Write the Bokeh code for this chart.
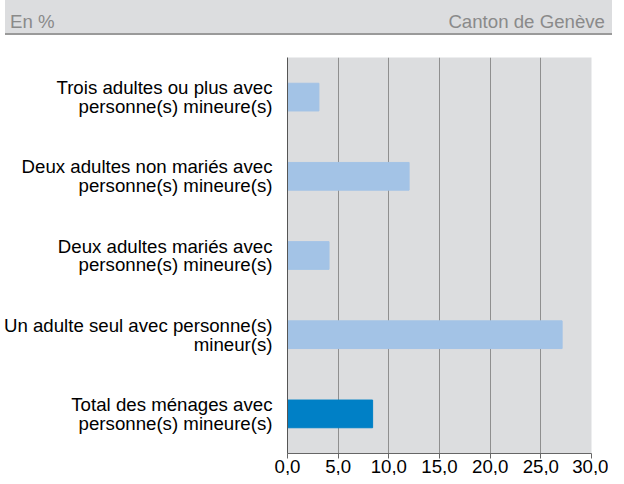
from bokeh.plotting import figure
from bokeh.models import FixedTicker, ColumnDataSource, CustomJSTickFormatter, Div
from bokeh.layouts import column
from bokeh.embed import file_html
from bokeh.resources import INLINE

categories = [
    "Total des ménages avec\npersonne(s) mineure(s)",
    "Un adulte seul avec personne(s)\nmineur(s)",
    "Deux adultes mariés avec\npersonne(s) mineure(s)",
    "Deux adultes non mariés avec\npersonne(s) mineure(s)",
    "Trois adultes ou plus avec\npersonne(s) mineure(s)",
]
values = [8.4, 27.1, 4.1, 12.0, 3.1]
colors = ["#0080c6", "#a3c3e6", "#a3c3e6", "#a3c3e6", "#a3c3e6"]
ticks = [0, 5, 10, 15, 20, 25, 30]
header_left = "En %"
header_right = "Canton de Genève"

FONT = "Liberation Sans"
FS = "14pt"
GREY_BG = "#dcdddf"

# ---- header band ----
HEADER_H = 35
header_html = (
    f'<div style="margin-left:5px;width:607px;height:{HEADER_H}px;box-sizing:border-box;'
    f'background:{GREY_BG};border-bottom:2px solid #9a9a9a;display:flex;'
    f'justify-content:space-between;align-items:flex-start;padding:13px 7px 0 5px;'
    f'font-family:\'{FONT}\';font-size:{FS};color:#8a8a8a;line-height:1;">'
    f'<span>{header_left}</span><span>{header_right}</span></div>'
)
h = Div(text=header_html, width=612, height=HEADER_H, margin=0)

# ---- main chart ----
p = figure(width=608, height=440, y_range=categories, x_range=(0, 30),
           output_backend="svg", toolbar_location=None,
           min_border_left=280, min_border_right=17, min_border_top=22,
           min_border_bottom=20, margin=0)
p.background_fill_color = GREY_BG
p.border_fill_color = "white"
p.outline_line_color = None

src = ColumnDataSource(dict(y=categories, v=values, c=colors))
p.hbar(y="y", right="v", left=0, height=0.35, color="c", source=src)

p.xaxis.ticker = FixedTicker(ticks=ticks)
p.xaxis.formatter = CustomJSTickFormatter(code="return tick.toFixed(1).replace('.', ',');")
p.xaxis.major_label_text_font = FONT
p.xaxis.major_label_text_font_size = FS
p.xaxis.major_label_text_color = "black"
p.xaxis.major_label_standoff = 1
p.xaxis.axis_line_color = "#666666"
p.xaxis.major_tick_line_color = "#666666"
p.xaxis.major_tick_out = 5
p.xaxis.major_tick_in = 0
p.xaxis.minor_tick_line_color = None

p.yaxis.major_label_text_font = FONT
p.yaxis.major_label_text_font_size = FS
p.yaxis.major_label_text_color = "black"
p.yaxis.major_label_text_line_height = 0.9
p.yaxis.major_label_standoff = 9
p.yaxis.axis_line_color = "#555555"
p.yaxis.major_tick_line_color = None
p.yaxis.minor_tick_line_color = None

p.xgrid.ticker = FixedTicker(ticks=ticks)
p.xgrid.grid_line_color = "#8f8f8f"
p.ygrid.grid_line_color = None

layout = column(h, p, spacing=0)
open("out.html", "w").write(file_html(layout, INLINE))
